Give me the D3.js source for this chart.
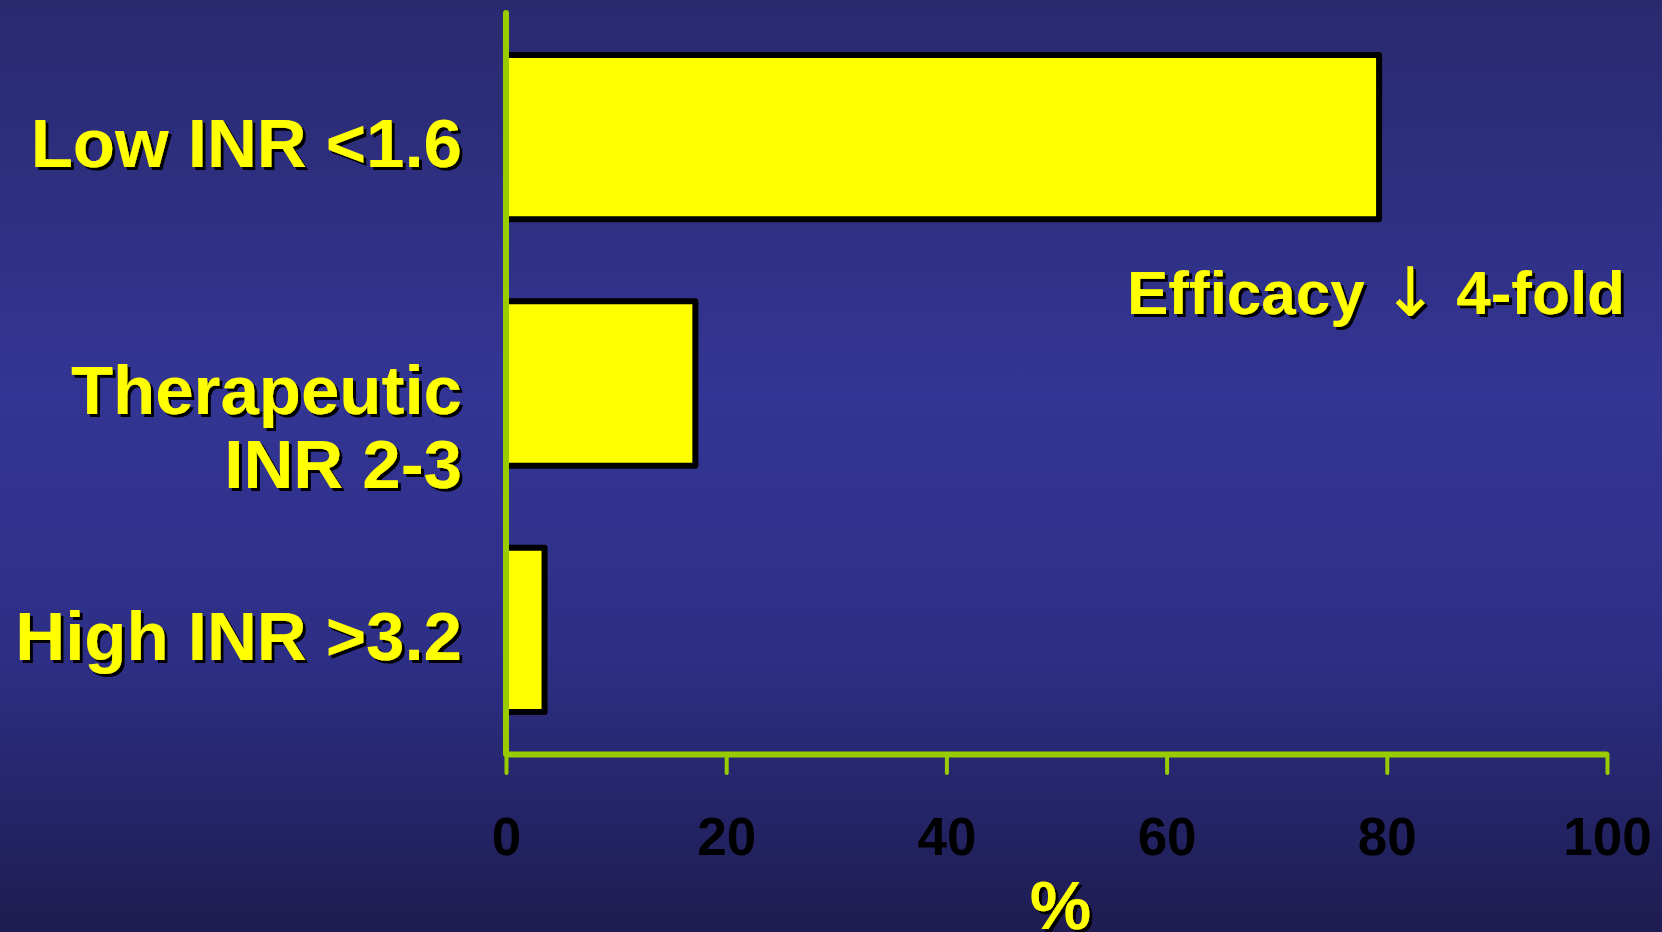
<!DOCTYPE html>
<html>
<head>
<meta charset="utf-8">
<script src="https://cdn.jsdelivr.net/npm/d3@7"></script>
<style>
  html, body { margin: 0; padding: 0; background: #2a2b72; overflow: hidden; }
  svg { display: block; }
  text { font-family: "Liberation Sans", Arial, sans-serif; font-weight: bold; }
</style>
</head>
<body>
<svg id="chart" width="1662" height="932"></svg>
<script>
// INR groups and the share of events in each (%)
const categories = ["Low INR <1.6", "Therapeutic\nINR 2-3", "High INR >3.2"];
const values = [79.3, 17.2, 3.5];
const tickValues = [0, 20, 40, 60, 80, 100];
const axisTitle = "%";
const noteMain = "Efficacy ";
const noteArrow = "\u2193";
const noteTail = " 4-fold";

const W = 1662, H = 932;
const svg = d3.select("#chart");

// Background: dark navy fading lighter toward the middle and darker at the bottom
const defs = svg.append("defs");
const grad = defs.append("linearGradient")
  .attr("id", "bg").attr("x1", 0).attr("y1", 0).attr("x2", 0).attr("y2", 1);
grad.append("stop").attr("offset", "0%").attr("stop-color", "#292a6e");
grad.append("stop").attr("offset", "42%").attr("stop-color", "#333594");
grad.append("stop").attr("offset", "70%").attr("stop-color", "#2d2f86");
grad.append("stop").attr("offset", "100%").attr("stop-color", "#1e1c50");
svg.append("rect").attr("width", W).attr("height", H).attr("fill", "url(#bg)");

// Hard black drop shadow for the yellow lettering
const shadow = defs.append("filter").attr("id", "shadow")
  .attr("x", "-5%").attr("y", "-5%").attr("width", "115%").attr("height", "130%");
shadow.append("feDropShadow")
  .attr("dx", 3).attr("dy", 3).attr("stdDeviation", 0)
  .attr("flood-color", "#000").attr("flood-opacity", 1);

const x = d3.scaleLinear().domain([0, 100]).range([506, 1607]);
const y = d3.scaleBand().domain(categories).range([13, 754])
  .paddingInner(0.333).paddingOuter(0.17);

const axisColor = "#99cc00";
const yellow = "#ffff00";

// Bars
svg.append("g").selectAll("rect")
  .data(categories)
  .join("rect")
  .attr("x", x(0))
  .attr("y", d => y(d))
  .attr("width", (d, i) => x(values[i]) - x(0))
  .attr("height", y.bandwidth())
  .attr("fill", yellow)
  .attr("stroke", "#000")
  .attr("stroke-width", 6)
  .attr("stroke-linejoin", "round");

// Category labels, right-aligned to the left of the axis
const labels = svg.append("g")
  .attr("filter", "url(#shadow)")
  .attr("fill", yellow)
  .attr("font-size", 69)
  .attr("text-anchor", "end");
categories.forEach(c => {
  const lines = c.split("\n");
  const cy = y(c) + y.bandwidth() / 2;
  const t = labels.append("text").attr("x", 462);
  lines.forEach((ln, i) => {
    t.append("tspan").attr("x", 462).attr("y", cy + 30 + i * 74).text(ln);
  });
});

// X axis
const xAxis = d3.axisBottom(x)
  .tickValues(tickValues)
  .tickSize(19)
  .tickSizeOuter(0)
  .tickFormat(d3.format("d"));
const gx = svg.append("g").attr("transform", "translate(0,754)").call(xAxis);
gx.select(".domain").attr("stroke", axisColor).attr("stroke-width", 6);
gx.selectAll(".tick line").attr("stroke", axisColor).attr("stroke-width", 4)
  .attr("stroke-linecap", "round");
gx.selectAll(".tick text")
  .attr("y", 101).attr("dy", 0)
  .attr("fill", "#000")
  .attr("font-size", 53)
  .attr("font-family", "'Liberation Sans', Arial, sans-serif")
  .attr("font-weight", "bold");

// Y axis line
svg.append("line")
  .attr("x1", x(0)).attr("x2", x(0))
  .attr("y1", 13).attr("y2", 754)
  .attr("stroke", axisColor).attr("stroke-width", 6)
  .attr("stroke-linecap", "round");

// Axis title
svg.append("text")
  .attr("filter", "url(#shadow)")
  .attr("x", (x(0) + x(100)) / 2 + 4).attr("y", 929)
  .attr("text-anchor", "middle")
  .attr("fill", yellow)
  .attr("font-size", 69)
  .text(axisTitle);

// Annotation
const note = svg.append("text")
  .attr("filter", "url(#shadow)")
  .attr("x", 1625).attr("y", 314)
  .attr("text-anchor", "end")
  .attr("fill", yellow)
  .attr("font-size", 62);
note.append("tspan").text(noteMain);
note.append("tspan")
  .attr("font-family", "'DejaVu Sans', sans-serif")
  .attr("font-weight", "normal")
  .attr("font-size", 68)
  .attr("dy", 2)
  .text(noteArrow);
note.append("tspan").attr("dy", -2).text(noteTail);
</script>
</body>
</html>
